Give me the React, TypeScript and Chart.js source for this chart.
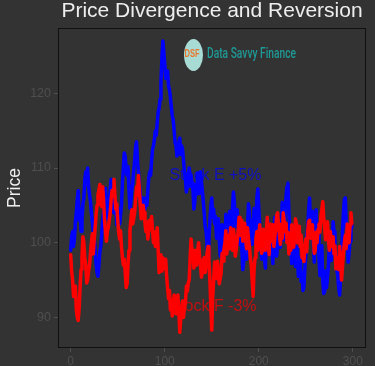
import React, { useEffect, useRef } from "react";
import { Chart, registerables } from "chart.js";

Chart.register(...registerables);

const TITLE = "Price Divergence and Reversion";
const Y_LABEL = "Price";
const LOGO_MARK = "DSF";
const LOGO_TEXT = "Data Savvy Finance";
const LABEL_E = "Stock E +5%";
const LABEL_F = "Stock F -3%";

const xTicks = [0, 100, 200, 300];
const yTicks = [90, 100, 110, 120];

const stockE = [
  99, 100.8, 101.5, 99.5, 100.5, 102.8, 104, 105.8, 107, 103,
  104.5, 101.5, 103, 105.2, 106, 108.4, 109.5, 107.8, 110, 107.5,
  106.5, 105.5, 104, 102.8, 101.5, 100.6, 99, 97.2, 96, 95.5,
  97, 98.8, 99.5, 101.2, 103, 104, 106, 107.3, 105, 103.2,
  104, 105.6, 107, 108.5, 106.5, 104.6, 104, 106.3, 105, 102.4,
  103.5, 104.5, 102.5, 103.8, 105, 108, 110, 112, 111.5, 109.6,
  109, 110.2, 107, 104.6, 105.5, 107.2, 108, 109.6, 111, 112.8,
  113.5, 111, 109.5, 107.8, 106.5, 104, 105, 106, 104.5, 105.2,
  106, 105, 107, 108.6, 109.5, 109, 111, 112.5, 113, 113.8,
  115, 114.4, 116, 117.5, 118, 119.2, 121.5, 124.8, 127, 125.5,
  124, 122, 122.5, 123, 121, 120.5, 119.5, 118.2, 117, 116.4,
  115, 113.4, 113, 111.6, 112, 113.5, 114, 111.8, 113, 112.4,
  111, 109.4, 108.5, 106.8, 107.5, 109.2, 110, 107.6, 109, 108,
  107, 104.5, 105.5, 107.8, 106.5, 109.3, 108, 106.6, 109.5, 108.2,
  107, 105.4, 104, 102.2, 101.5, 99.6, 98, 100.6, 103, 104.8,
  106, 103.4, 104.5, 102.6, 103.5, 100.6, 102, 103.2, 100.5, 98.2,
  99.5, 102.4, 101, 98.8, 100, 103.8, 102.5, 100.2, 101.5, 104.2,
  103, 102, 104.5, 106.8, 105.5, 102.2, 103, 104.4, 102, 99.8,
  101.5, 100.4, 99, 96.4, 97.5, 100.8, 99.5, 97.8, 102, 105.2,
  104, 101.2, 103, 99.8, 101.5, 104.6, 103.5, 101.8, 106, 107.2,
  104.5, 102.2, 101, 97.8, 99, 100.6, 98, 96.6, 100, 103.2,
  102.5, 98.4, 100.5, 102.2, 99, 97.2, 100.5, 103.4, 101, 98.2,
  99.5, 102.6, 101.5, 99.4, 103, 105.4, 102, 100.4, 104, 106.2,
  107.5, 108, 104, 101.8, 100, 97.2, 98.5, 101.6, 100, 96.8,
  97.5, 99.4, 95.5, 97.2, 98, 94.8, 96, 93.6, 94, 96.6,
  98.5, 100.8, 102, 104.4, 106, 101.6, 103, 104.2, 100, 97.4,
  102.5, 104.4, 99.5, 101.2, 98, 95.6, 97, 99.6, 95, 93.2,
  93.5, 96.2, 94, 95.2, 97, 99.2, 100.5, 97.6, 99, 102.8,
  101.5, 99.6, 98, 96.4, 95.5, 94, 93, 95.4, 98, 101.6,
  104, 105.8, 106, 102.4, 101, 97.4, 98.5, 100.2, 103.5, 102,
];

const stockF = [
  98.4, 96.2, 95, 92.8, 93, 94.2, 91, 90, 89.6, 91.2,
  94, 96.4, 98, 100.8, 100, 98, 97, 94.6, 95, 96.2,
  97, 98.6, 100, 101.2, 98.5, 100.4, 102, 103.8, 105, 106.4,
  107, 107.8, 106, 104.8, 107.5, 105.6, 103, 101.4, 100.2, 101.6,
  102, 103, 104, 105.8, 107, 106.2, 108.5, 106.4, 104.5, 105.2,
  103, 101.4, 100.5, 101.6, 99.5, 98, 97, 97.8, 96, 94,
  94.5, 97.2, 99, 101.6, 103, 104.4, 102.5, 103.2, 104, 105.8,
  107.5, 106.4, 109, 107.2, 105, 103.2, 103.5, 105, 104, 102.6,
  101.5, 102.8, 100.5, 101.8, 103, 101.8, 103.5, 101.6, 100, 101.4,
  99.5, 100.8, 102, 99, 96, 98.4, 97.5, 96.2, 98, 97,
  96.5, 97.8, 95.5, 94, 92.5, 93.6, 91, 92.4, 90.2, 91.6,
  93, 91.8, 90.5, 92, 93, 90.6, 88, 89.8, 91, 92.2,
  90, 91.4, 92, 94.2, 93.5, 94.6, 95, 98, 100.5, 99,
  98.5, 96.6, 97.5, 99, 97, 98.8, 100, 98.2, 97, 95.4,
  96, 97.6, 98, 96, 97, 98.6, 99.5, 97.6, 95, 91.4,
  88.3, 92.6, 95, 97.4, 96.5, 95.2, 97.5, 96, 94.5, 95.2,
  96, 98.6, 97.5, 99.2, 100, 101.6, 98.5, 100.2, 101, 99.2,
  102, 100.4, 99, 101.8, 100.5, 98.2, 99, 100.2, 101.5, 103.4,
  101, 102.2, 103, 100.2, 101, 102.6, 100.5, 99.2, 102, 100.6,
  99.5, 98, 97, 95, 92.8, 96.4, 98, 100.4, 101.5, 99,
  100, 102.4, 101, 98.6, 99, 101.8, 100.5, 99, 101.5, 103.4,
  100, 98.4, 102.5, 100.2, 101, 102.4, 99.5, 100.6, 102, 103.6,
  104, 102.2, 101, 99.8, 102.5, 100.6, 104, 102.8, 101.5, 102.6,
  100, 101.4, 98.5, 100.6, 99, 102.4, 101.5, 99.4, 100.5, 103.2,
  102.5, 100, 101, 102.2, 99.5, 101, 98, 99.2, 97.5, 99.6,
  100.5, 98.8, 101.5, 102.8, 103, 100.6, 101, 102.4, 100.5, 98.6,
  99, 101.4, 100, 101.8, 102.5, 101.4, 103.5, 104.4, 105.5, 103.4,
  102, 100.4, 101, 102.8, 100.5, 99, 101.5, 100.6, 99.5, 100.8,
  98.5, 99.6, 96.5, 97.6, 98, 96.4, 99.5, 97.2, 95, 96.8,
  98.5, 100, 101, 99.2, 102.5, 101.2, 100, 102.4, 104, 102.6,
];

const toPoints = (vals: number[]) => vals.map((v, i) => ({ x: i, y: v }));

const FONT = '"Liberation Sans", Arial, Helvetica, sans-serif';

const decor = {
  id: "decor",
  beforeDraw(chart: any) {
    const { ctx, width, height } = chart;
    ctx.save();
    ctx.fillStyle = "#333333";
    ctx.fillRect(0, 0, width, height);
    ctx.restore();
  },
  beforeDatasetsDraw(chart: any) {
    const { ctx } = chart;
    const xs = chart.scales.x;
    const ys = chart.scales.y;
    ctx.save();
    ctx.font = `16px ${FONT}`;
    ctx.textAlign = "left";
    ctx.textBaseline = "middle";
    ctx.fillStyle = "rgba(0,0,255,0.7)";
    ctx.fillText(LABEL_E, xs.getPixelForValue(105), ys.getPixelForValue(109));
    ctx.fillStyle = "rgba(255,0,0,0.7)";
    ctx.fillText(LABEL_F, xs.getPixelForValue(105), ys.getPixelForValue(91.5));
    ctx.restore();
  },
  afterDraw(chart: any) {
    const { ctx, chartArea } = chart;
    const { left, top, right, bottom } = chartArea;
    ctx.save();
    // frame
    ctx.strokeStyle = "#111111";
    ctx.lineWidth = 1;
    ctx.strokeRect(left + 0.5, top + 0.5, right - left - 1, bottom - top - 1);
    // title
    ctx.fillStyle = "#eeeeee";
    ctx.font = `21px ${FONT}`;
    ctx.textAlign = "center";
    ctx.textBaseline = "alphabetic";
    ctx.fillText(TITLE, (left + right) / 2, 17);
    // y label
    ctx.save();
    ctx.translate(15, (top + bottom) / 2);
    ctx.rotate(-Math.PI / 2);
    ctx.font = `17.5px ${FONT}`;
    ctx.textBaseline = "middle";
    ctx.fillText(Y_LABEL, 0, 0);
    ctx.restore();
    // logo
    ctx.fillStyle = "#a9dbd5";
    ctx.beginPath();
    ctx.ellipse(193.5, 55, 9.5, 16, 0, 0, Math.PI * 2);
    ctx.fill();
    ctx.fillStyle = "#e8792e";
    ctx.font = `bold 11px ${FONT}`;
    ctx.textAlign = "center";
    ctx.textBaseline = "middle";
    ctx.fillText(LOGO_MARK, 192, 54, 15);
    ctx.fillStyle = "#1f9995";
    ctx.font = `500 14px Roboto, ${FONT}`;
    ctx.textAlign = "left";
    ctx.fillText(LOGO_TEXT, 207, 54.5, 89);
    ctx.restore();
  },
};

export default function App() {
  const ref = useRef<HTMLCanvasElement>(null);
  useEffect(() => {
    document.body.style.margin = "0";
    const canvas = ref.current!;
    const chart = new Chart(canvas, {
      type: "line",
      data: {
        datasets: [
          {
            label: "Stock F",
            data: toPoints(stockF),
            borderColor: "#ff0000",
            borderWidth: 3.5,
            pointRadius: 0,
            borderJoinStyle: "round",
            borderCapStyle: "round",
            tension: 0,
            order: 0,
          },
          {
            label: "Stock E",
            data: toPoints(stockE),
            borderColor: "#0000ff",
            borderWidth: 3.5,
            pointRadius: 0,
            borderJoinStyle: "round",
            borderCapStyle: "round",
            tension: 0,
            order: 1,
          },
        ],
      },
      options: {
        animation: false,
        responsive: false,
        devicePixelRatio: 1,
        layout: { padding: { top: 28, right: 9, left: 0, bottom: 0 } },
        plugins: {
          legend: { display: false },
          title: { display: false },
          tooltip: { enabled: false },
        },
        scales: {
          x: {
            type: "linear",
            min: -13.5,
            max: 314,
            afterFit(s: any) {
              s.height = 18;
            },
            afterBuildTicks(s: any) {
              s.ticks = xTicks.map((v) => ({ value: v }));
            },
            ticks: {
              color: "#4f4f4f",
              font: { size: 12, family: FONT },
              padding: 2,
              maxRotation: 0,
              autoSkip: false,
            },
            grid: { drawOnChartArea: false, tickLength: 4, tickColor: "#4f4f4f", color: "#4f4f4f" },
            border: { display: false },
          },
          y: {
            type: "linear",
            min: 85.9,
            max: 128.75,
            afterFit(s: any) {
              s.width = 58;
            },
            afterBuildTicks(s: any) {
              s.ticks = yTicks.map((v) => ({ value: v }));
            },
            ticks: {
              color: "#4f4f4f",
              font: { size: 12.5, family: FONT },
              padding: 3,
              autoSkip: false,
            },
            grid: { drawOnChartArea: false, tickLength: 4, tickColor: "#4f4f4f", color: "#4f4f4f" },
            border: { display: false },
          },
        },
      },
      plugins: [decor],
    });
    return () => chart.destroy();
  }, []);
  return <canvas ref={ref} width={375} height={366} style={{ display: "block", width: 375, height: 366 }} />;
}
